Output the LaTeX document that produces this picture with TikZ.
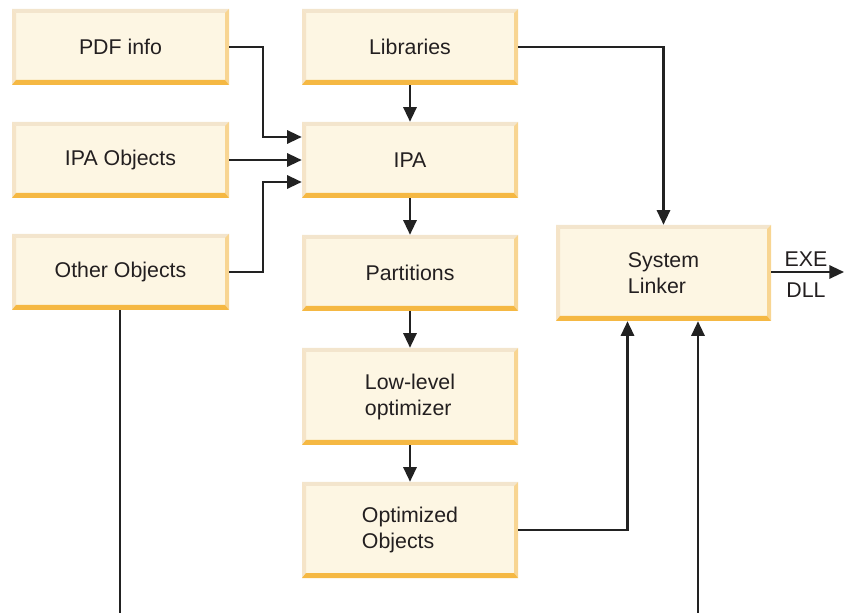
\documentclass[tikz,border=0pt]{standalone}
\usepackage{fontspec}
\setmainfont{Liberation Sans}
\usetikzlibrary{arrows.meta,calc}
\definecolor{bxfill}{HTML}{FDF6E3}
\definecolor{bxtop}{HTML}{F3E5CD}
\definecolor{bxleft}{HTML}{F5E4C8}
\definecolor{bxright}{HTML}{F8D592}
\definecolor{bxbot}{HTML}{F5B843}
\definecolor{ink}{HTML}{231F20}
\definecolor{wire}{HTML}{222222}
\tikzset{
  boxtext/.style={inner sep=0pt, align=left, text=ink, font=\fontsize{16}{19.5}\selectfont},
  conn/.style={draw=wire, line width=1.6pt},
  arr/.style={conn, -{Triangle[length=11pt,width=10pt]}},
  lbl/.style={text=ink, font=\fontsize{16}{19.5}\selectfont, inner sep=0pt}
}
\newcommand{\bevbox}[6]{%
  \fill[bxfill] (#2,#3) rectangle (#4,#5);
  \fill[bxtop] (#2,#3) -- (#4,#3) -- (#4-4,#3+4) -- (#2+4,#3+4) -- cycle;
  \fill[bxleft] (#2,#3) -- (#2+4,#3+4) -- (#2+4,#5-5) -- (#2,#5) -- cycle;
  \fill[bxright] (#4,#3) -- (#4,#5) -- (#4-4,#5-5) -- (#4-4,#3+4) -- cycle;
  \fill[bxbot] (#2,#5) -- (#4,#5) -- (#4-4,#5-5) -- (#2+4,#5-5) -- cycle;
  \node[boxtext, minimum width={(#4-#2)*0.75pt}, minimum height={(#5-#3)*0.75pt}] (#1) at ({(#2+#4)/2},{(#3+#5)/2}) {#6};
}
\begin{document}
\begin{tikzpicture}[x=0.75pt,y=-0.75pt]
\useasboundingbox (0,0) rectangle (844,613);
\bevbox{pdf}{12}{9}{229}{85}{PDF info}
\bevbox{ipaobj}{12}{122}{229}{198}{IPA Objects}
\bevbox{other}{12}{234}{229}{310}{Other Objects}
\bevbox{lib}{302}{9}{518}{85}{Libraries}
\bevbox{ipa}{302}{122}{518}{198}{IPA}
\bevbox{part}{302}{235}{518}{311}{Partitions}
\bevbox{low}{302}{348}{518}{445}{Low-level\\optimizer}
\bevbox{opt}{302}{482}{518}{578}{Optimized\\Objects}
\bevbox{linker}{556}{225}{771}{321}{System\\Linker}
% connectors
\coordinate (j1) at (263,47);
\draw[arr] (pdf.east) -- (j1) |- ($(ipa.west)+(0,-23)$);
\draw[arr] (ipaobj.east) -- (ipa.west);
\coordinate (j2) at (263,272);
\draw[arr] (other.east) -- (j2) |- ($(ipa.west)+(0,22)$);
\draw[arr] (lib.east) -| (linker.north);
\draw[arr] (lib.south) -- (ipa.north);
\draw[arr] (ipa.south) -- (part.north);
\draw[arr] (part.south) -- (low.north);
\draw[arr] (low.south) -- (opt.north);
\draw[arr] (opt.east) -| ($(linker.south)+(-36,0)$);
\coordinate (bot1) at (120,613);
\draw[conn] (other.south -| bot1) -- (bot1);
\coordinate (bot2) at (698,613);
\draw[arr] (bot2) -- (bot2 |- linker.south);
\coordinate (out) at (844,272);
\draw[arr] (linker.east |- out) -- (out);
\node[lbl] (exe) at (806,259) {EXE};
\node[lbl] (dll) at (806,290) {DLL};
\end{tikzpicture}
\end{document}
